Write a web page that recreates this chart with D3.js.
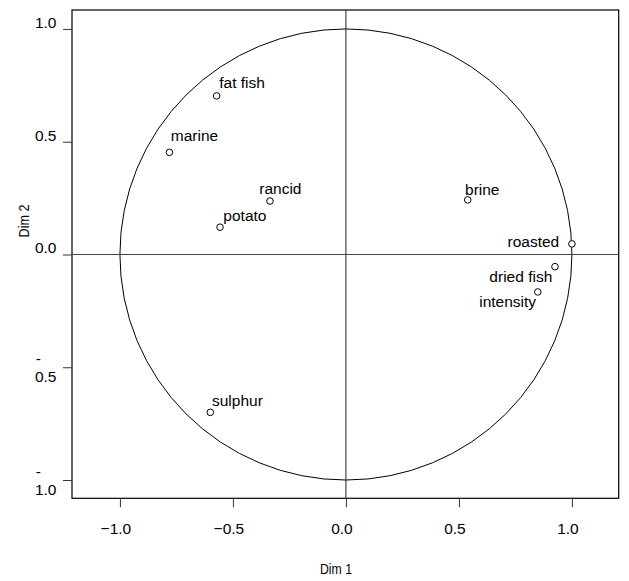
<!DOCTYPE html>
<html>
<head>
<meta charset="utf-8">
<script src="https://cdn.jsdelivr.net/npm/d3@7"></script>
<style>
  body { margin: 0; background: #fff; }
  svg { display: block; font-family: "Liberation Sans", Arial, sans-serif; }
</style>
</head>
<body>
<svg id="chart" width="629" height="581"></svg>
<script>
// variables on the correlation circle
const variables = ["fat fish", "marine", "rancid", "potato", "brine", "roasted", "dried fish", "intensity", "sulphur"];
const dim1 = [-0.572, -0.781, -0.336, -0.557, 0.539, 1.000, 0.925, 0.849, -0.600];
const dim2 = [0.703, 0.453, 0.237, 0.121, 0.242, 0.047, -0.054, -0.166, -0.700];
const tickValues = [-1.0, -0.5, 0.0, 0.5, 1.0];

// where each label sits relative to its point (anchor, dx, dy)
const labelPlacement = [
    ["start", 2.6, -8], ["start", 1.4, -11], ["start", -10.7, -6.7], ["start", 3.3, -6.3],
    ["start", -2.7, -5], ["end", -12.7, 3], ["end", -2.7, 15], ["end", -1.7, 14.7], ["start", 1.7, -6]
];

const svg = d3.select("#chart");
const box = { left: 72, right: 618.7, top: 10, bottom: 498.3 };

const x = d3.scaleLinear().domain([-1.212, 1.207]).range([box.left, box.right]);
const y = d3.scaleLinear().domain([-1.081, 1.084]).range([box.bottom, box.top]);

const fontSize = "15.5px";

// plot frame
svg.append("rect")
    .attr("x", box.left).attr("y", box.top)
    .attr("width", box.right - box.left).attr("height", box.bottom - box.top)
    .attr("fill", "none").attr("stroke", "#000").attr("stroke-width", 1.2);

// unit circle
svg.append("ellipse")
    .attr("cx", x(0)).attr("cy", y(0))
    .attr("rx", x(1) - x(0)).attr("ry", y(0) - y(1))
    .attr("fill", "none").attr("stroke", "#000").attr("stroke-width", 1);

// zero lines
svg.append("line")
    .attr("x1", x(0)).attr("x2", x(0)).attr("y1", box.top).attr("y2", box.bottom)
    .attr("stroke", "#222").attr("stroke-width", 1);
svg.append("line")
    .attr("x1", box.left).attr("x2", box.right).attr("y1", y(0)).attr("y2", y(0))
    .attr("stroke", "#444").attr("stroke-width", 1);

// x axis
const xAxis = svg.append("g")
    .attr("transform", `translate(0,${box.bottom})`)
    .call(d3.axisBottom(x).tickValues(tickValues).tickSize(9).tickSizeOuter(0).tickFormat(d3.format(".1f")));
xAxis.select(".domain").remove();
xAxis.selectAll("line").attr("stroke", "#333");
xAxis.selectAll("text")
    .attr("dx", -4.5).attr("y", 0).attr("dy", null)
    .attr("transform", "translate(0,35.5)")
    .style("font-size", fontSize).attr("fill", "#000")
    .style("font-family", "'Liberation Sans', Arial, sans-serif");

// y axis (negative labels wrap the minus sign onto its own line)
const yAxis = svg.append("g")
    .attr("transform", `translate(${box.left},0)`)
    .call(d3.axisLeft(y).tickValues(tickValues).tickSize(9).tickSizeOuter(0).tickFormat(""));
yAxis.select(".domain").remove();
yAxis.selectAll("line").attr("stroke", "#333");

tickValues.forEach(v => {
    const txt = d3.format(".1f")(Math.abs(v));
    const t = svg.append("text")
        .attr("x", 56.5)
        .attr("text-anchor", "end")
        .style("font-size", fontSize)
        .text(txt);
    if (v < 0) {
        t.attr("y", y(v) + 14.5);
        const w = t.node().getComputedTextLength();
        svg.append("text")
            .attr("x", 56.5 - w + 0.8)
            .attr("y", y(v) - 3.5)
            .style("font-size", fontSize)
            .text("-");
    } else {
        t.attr("y", y(v) - 1);
    }
});

// axis titles
svg.append("text")
    .attr("x", 336).attr("y", 573.5)
    .attr("text-anchor", "middle")
    .style("font-size", "15px")
    .attr("textLength", 32).attr("lengthAdjust", "spacingAndGlyphs")
    .text("Dim 1");
svg.append("text")
    .attr("transform", "translate(29,221) rotate(-90)")
    .attr("text-anchor", "middle")
    .style("font-size", "15px")
    .attr("textLength", 33).attr("lengthAdjust", "spacingAndGlyphs")
    .text("Dim 2");

// points and labels
const pts = variables.map((name, i) => ({ name, d1: dim1[i], d2: dim2[i], place: labelPlacement[i] }));

svg.append("g").selectAll("circle")
    .data(pts)
    .enter().append("circle")
    .attr("cx", d => x(d.d1))
    .attr("cy", d => y(d.d2))
    .attr("r", 3.3)
    .attr("fill", "#fff")
    .attr("stroke", "#000")
    .attr("stroke-width", 1);

svg.append("g").selectAll("text")
    .data(pts)
    .enter().append("text")
    .attr("x", d => x(d.d1) + d.place[1])
    .attr("y", d => y(d.d2) + d.place[2])
    .attr("text-anchor", d => d.place[0])
    .style("font-size", fontSize)
    .text(d => d.name);
</script>
</body>
</html>
